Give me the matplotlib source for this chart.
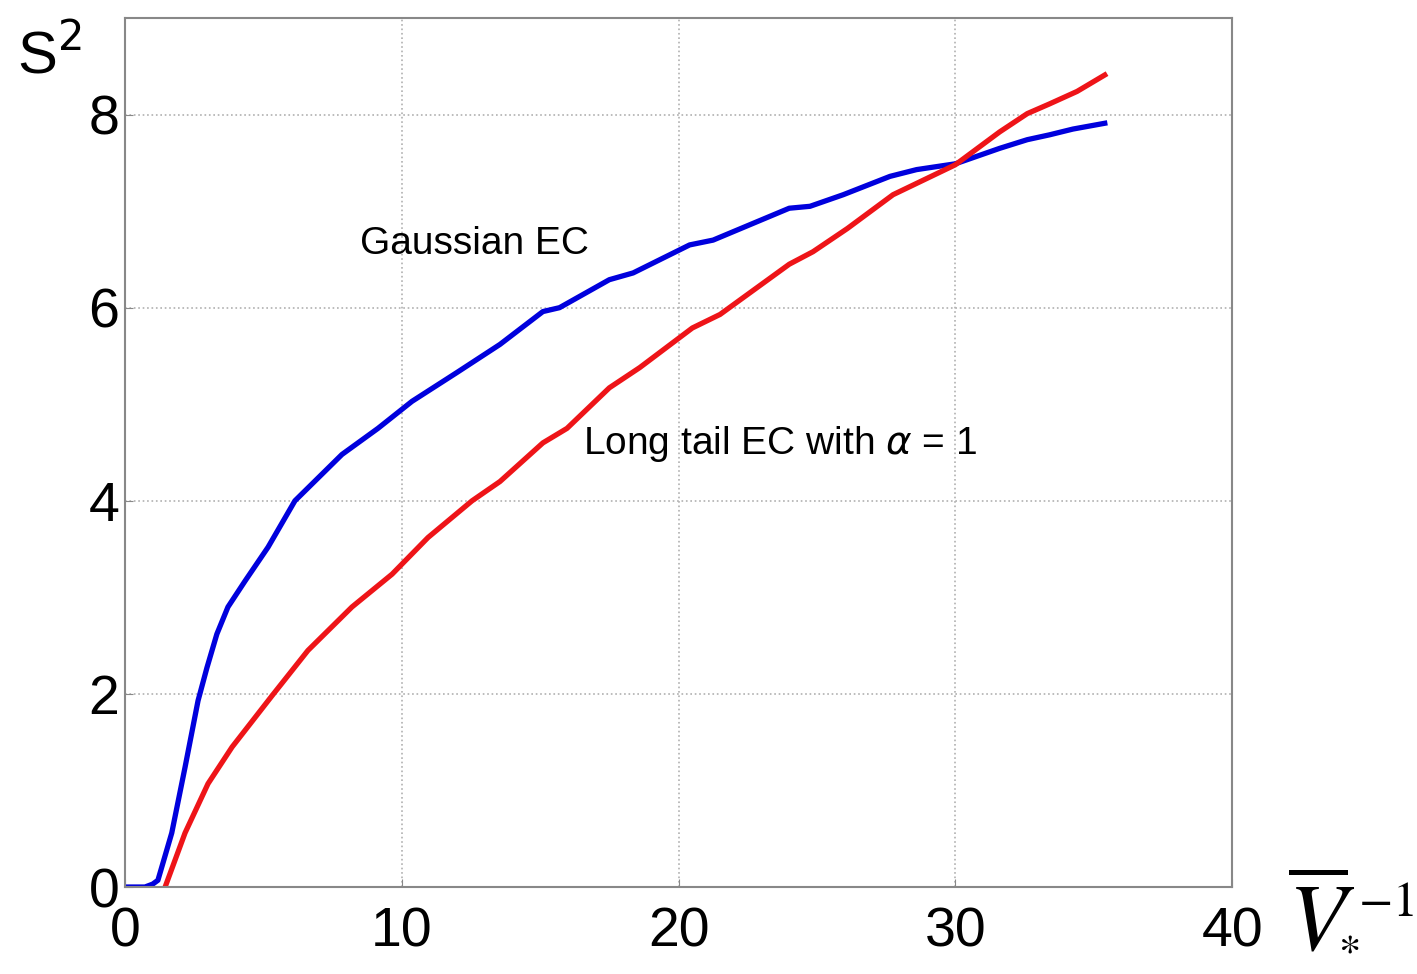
import matplotlib
matplotlib.use("Agg")
import matplotlib.pyplot as plt

plt.rcParams['font.family'] = ['Liberation Sans', 'DejaVu Sans']

# Gaussian EC (blue)
xg = [0.0, 0.72, 1.0, 1.19, 1.69, 2.17, 2.64, 2.96, 3.32, 3.72, 4.34, 5.17, 6.14,
      7.84, 9.14, 10.37, 12.0, 13.55, 15.1, 15.7, 17.5, 18.36, 20.4, 21.25, 24.0,
      24.75, 25.95, 27.64, 28.6, 30.0, 31.6, 32.6, 33.4, 34.25, 35.4]
yg = [0.0, 0.0, 0.03, 0.07, 0.56, 1.24, 1.93, 2.27, 2.62, 2.90, 3.17, 3.52, 4.0,
      4.48, 4.75, 5.03, 5.33, 5.62, 5.96, 6.0, 6.29, 6.36, 6.65, 6.70, 7.03,
      7.05, 7.17, 7.36, 7.43, 7.49, 7.65, 7.74, 7.79, 7.85, 7.91]

# Long tail EC, alpha = 1 (red)
xl = [1.45, 2.17, 3.0, 3.87, 5.31, 6.61, 8.2, 9.65, 10.95, 12.54, 13.55,
      15.1, 15.97, 17.5, 18.6, 20.5, 21.5, 24.0, 24.86, 26.1, 27.75, 30.0,
      31.6, 32.6, 33.4, 34.4, 35.4]
yl = [0.0, 0.56, 1.07, 1.45, 1.98, 2.45, 2.9, 3.24, 3.62, 4.0, 4.2,
      4.6, 4.75, 5.17, 5.38, 5.79, 5.93, 6.45, 6.58, 6.82, 7.17, 7.48,
      7.82, 8.01, 8.11, 8.24, 8.41]

xticks = [0, 10, 20, 30, 40]
yticks = [0, 2, 4, 6, 8]

fig = plt.figure(figsize=(14.17, 9.74), dpi=100)
ax = fig.add_axes([0.0882, 0.0893, 0.7813, 0.8922])

ax.plot(xg, yg, color='#0000dd', lw=3.8)
ax.plot(xl, yl, color='#ee1418', lw=3.8)

ax.set_xlim(0, 40)
ax.set_ylim(0, 9)
ax.set_xticks(xticks)
ax.set_yticks(yticks)
ax.tick_params(direction='in', labelsize=40, length=6, color='#888888', pad=4)
ax.tick_params(axis='x', pad=14)
ax.grid(True, linestyle=':', color='#b0b0b0', lw=1.2)
for s in ax.spines.values():
    s.set_color('#888888')
    s.set_linewidth(1.5)

ax.text(8.5, 6.66, 'Gaussian EC', fontsize=28, va='center', ha='left')
ax.text(16.55, 4.59, r'Long tail EC with $\alpha$ = 1', fontsize=28, va='center', ha='left')

# axis labels
fig.text(0.012, 0.942, r'S$^2$', fontsize=43, va='center', ha='left')
fig.text(1288/1417, 1 - 926/974, r'$\overline{V}$', fontsize=68, va='center', ha='left',
         math_fontfamily='stix')
fig.text(1358/1417, 1 - 903/974, r'$-1$', fontsize=36, va='center', ha='left',
         math_fontfamily='stix')
fig.text(1349/1417, 1 - 952/974, r'$*$', fontsize=32, va='center', ha='center',
         math_fontfamily='stix')

fig.savefig('out.png', dpi=100)
